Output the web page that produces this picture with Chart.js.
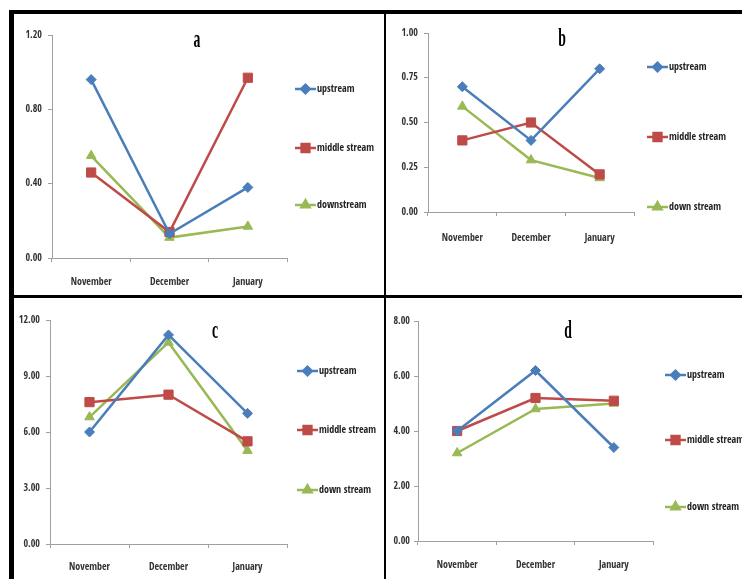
<!DOCTYPE html>
<html>
<head>
<meta charset="utf-8">
<script src="https://cdn.jsdelivr.net/npm/chart.js@4.4.0/dist/chart.umd.min.js"></script>
<style>
  html, body { margin: 0; padding: 0; background: #fff; }
  body { width: 742px; height: 579px; position: relative; overflow: hidden; }
  .frame { position: absolute; left: 9px; top: 10px; width: 740px; height: 580px;
           border-top: 4px solid #000; border-left: 5px solid #000; box-sizing: border-box; }
  .vline { position: absolute; left: 384px; top: 14px; width: 2px; height: 565px; background: #000; }
  .hline { position: absolute; left: 14px; top: 295px; width: 728px; height: 3px; background: #000; }
  .panel { position: absolute; }
  canvas { display: block; }
</style>
</head>
<body>
<div class="frame"></div>
<div class="vline"></div>
<div class="hline"></div>
<div class="panel" style="left:14px;top:14px"><canvas id="chart-a" width="370" height="281"></canvas></div>
<div class="panel" style="left:386px;top:14px"><canvas id="chart-b" width="356" height="281"></canvas></div>
<div class="panel" style="left:14px;top:298px"><canvas id="chart-c" width="370" height="281"></canvas></div>
<div class="panel" style="left:386px;top:298px"><canvas id="chart-d" width="356" height="281"></canvas></div>

<script>
// categories and series names
const months = ['November', 'December', 'January'];
const seriesA = ['upstream', 'middle stream', 'downstream'];
const seriesOther = ['upstream', 'middle stream', 'down stream'];

// panel a
const upstreamA = [0.96, 0.13, 0.38];
const middleA = [0.46, 0.14, 0.97];
const downA = [0.55, 0.11, 0.17];
const ticksA = [0, 0.4, 0.8, 1.2];

// panel b
const upstreamB = [0.70, 0.40, 0.80];
const middleB = [0.40, 0.50, 0.21];
const downB = [0.59, 0.29, 0.19];
const ticksB = [0, 0.25, 0.5, 0.75, 1.0];

// panel c
const upstreamC = [6.0, 11.2, 7.0];
const middleC = [7.6, 8.0, 5.5];
const downC = [6.8, 10.8, 5.0];
const ticksC = [0, 3, 6, 9, 12];

// panel d
const upstreamD = [4.0, 6.2, 3.4];
const middleD = [4.0, 5.2, 5.1];
const downD = [3.2, 4.8, 5.0];
const ticksD = [0, 2, 4, 6, 8];

const BLUE = '#4a7ebb';
const RED = '#be4b48';
const GREEN = '#98b954';
const AXIS = '#a0a0a0';
const CONDENSED = "'Open Sans Condensed', 'Roboto Condensed', sans-serif";

// draws the panel letter and the line+marker legend on the right
const panelDecor = {
    id: 'panelDecor',
    afterDraw(chart, args, opts) {
        const ctx = chart.ctx;
        ctx.save();
        ctx.translate(opts.titleX, opts.titleY);
        ctx.scale(0.55, 1);
        ctx.font = 'bold 25px "Liberation Serif", serif';
        ctx.fillStyle = '#000';
        ctx.textAlign = 'center';
        ctx.textBaseline = 'middle';
        ctx.fillText(opts.title, 0, 0);
        ctx.restore();

        chart.data.datasets.forEach((ds, i) => {
            const x = opts.legendX;
            const y = opts.legendY[i];
            ctx.save();
            ctx.strokeStyle = ds.borderColor;
            ctx.lineWidth = 2.5;
            ctx.beginPath();
            ctx.moveTo(x, y);
            ctx.lineTo(x + 21, y);
            ctx.stroke();
            ctx.fillStyle = ds.pointBackgroundColor;
            ctx.strokeStyle = ds.pointBorderColor;
            Chart.helpers.drawPoint(ctx, { pointStyle: ds.pointStyle, radius: ds.pointRadius * 0.85, borderWidth: 1, rotation: 0 }, x + 10.5, y);

            ctx.font = 'bold 10px ' + CONDENSED;
            ctx.fillStyle = '#222';
            ctx.textAlign = 'left';
            ctx.textBaseline = 'middle';
            ctx.fillText(ds.label, x + 22, y);
            ctx.restore();
        });
    }
};

function makeDatasets(names, up, mid, down) {
    const styles = [
        { color: BLUE, pointStyle: 'rectRot', radius: 5 },
        { color: RED, pointStyle: 'rect', radius: 6.5 },
        { color: GREEN, pointStyle: 'triangle', radius: 5.5 }
    ];
    return [up, mid, down].map((vals, i) => ({
        label: names[i],
        data: vals,
        borderColor: styles[i].color,
        backgroundColor: styles[i].color,
        pointBackgroundColor: styles[i].color,
        pointBorderColor: styles[i].color,
        pointStyle: styles[i].pointStyle,
        pointRadius: styles[i].radius,
        pointBorderWidth: 1,
        borderWidth: 2.5,
        tension: 0
    }));
}

function buildChart(id, datasets, yTicks, layout) {
    const ctx = document.getElementById(id).getContext('2d');
    return new Chart(ctx, {
        type: 'line',
        data: { labels: months, datasets: datasets },
        plugins: [panelDecor],
        options: {
            responsive: false,
            animation: false,
            layout: { padding: { left: 0, top: layout.padTop, right: layout.padRight, bottom: 0 } },
            plugins: {
                legend: { display: false },
                tooltip: { enabled: false },
                panelDecor: layout.decor
            },
            scales: {
                x: {
                    offset: true,
                    grid: { offset: true, drawOnChartArea: false, drawTicks: true, tickLength: 4, color: AXIS },
                    border: { color: AXIS, width: 1 },
                    ticks: { font: { family: CONDENSED, size: 10, weight: 'bold' }, color: '#333', padding: layout.xPad, maxRotation: 0 },
                    afterFit: (s) => { s.height = layout.xHeight; }
                },
                y: {
                    min: yTicks[0],
                    max: yTicks[yTicks.length - 1],
                    grid: { drawOnChartArea: false, drawTicks: true, tickLength: 4, color: AXIS },
                    border: { color: AXIS, width: 1 },
                    afterBuildTicks: (s) => { s.ticks = yTicks.map(v => ({ value: v })); },
                    ticks: {
                        font: { family: CONDENSED, size: 10, weight: 'bold' },
                        color: '#333',
                        padding: layout.yPad,
                        callback: (v) => Number(v).toFixed(2)
                    },
                    afterFit: (s) => { s.width = layout.yWidth; }
                }
            }
        }
    });
}

// panel a: canvas origin (14,14)
buildChart('chart-a', makeDatasets(seriesA, upstreamA, middleA, downA), ticksA, {
    padTop: 21, padRight: 97, yWidth: 38, xHeight: 37, xPad: 14, yPad: 6,
    decor: { title: 'a', titleX: 183, titleY: 27, legendX: 281, legendY: [75, 134, 191] }
});

// panel b: canvas origin (386,14)
buildChart('chart-b', makeDatasets(seriesOther, upstreamB, middleB, downB), ticksB, {
    padTop: 19, padRight: 108, yWidth: 42, xHeight: 83, xPad: 16, yPad: 6,
    decor: { title: 'b', titleX: 176, titleY: 26, legendX: 261, legendY: [53, 123, 193] }
});

// panel c: canvas origin (14,298)
buildChart('chart-c', makeDatasets(seriesOther, upstreamC, middleC, downC), ticksC, {
    padTop: 22, padRight: 97, yWidth: 36, xHeight: 35, xPad: 13, yPad: 6,
    decor: { title: 'c', titleX: 201, titleY: 34, legendX: 283, legendY: [73, 132, 192] }
});

// panel d: canvas origin (386,298)
buildChart('chart-d', makeDatasets(seriesOther, upstreamD, middleD, downD), ticksD, {
    padTop: 23, padRight: 89, yWidth: 32, xHeight: 38, xPad: 14, yPad: 4,
    decor: { title: 'd', titleX: 182, titleY: 34, legendX: 279, legendY: [77, 142, 209] }
});
</script>
</body>
</html>
